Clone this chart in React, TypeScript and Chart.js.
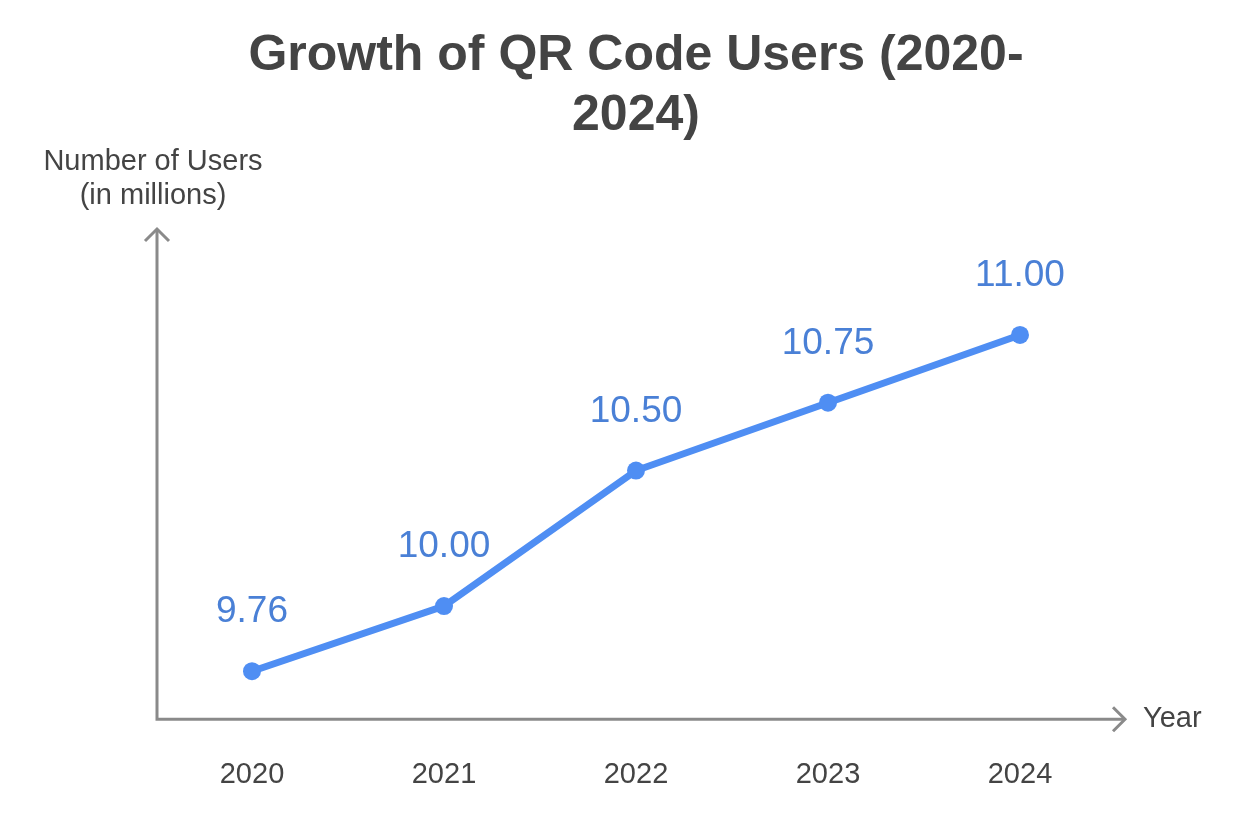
import React, { useEffect, useRef } from "react";
import { Chart, registerables } from "chart.js";

Chart.register(...registerables);

const years = ["2020", "2021", "2022", "2023", "2024"];
const users = [9.76, 10.0, 10.5, 10.75, 11.0];
const valueLabels = ["9.76", "10.00", "10.50", "10.75", "11.00"];
const titleLines = ["Growth of QR Code Users (2020-", "2024)"];
const yTitleLines = ["Number of Users", "(in millions)"];
const xTitle = "Year";

const FONT = '"Liberation Sans", Arial, Helvetica, sans-serif';
const LINE_COLOR = "#4f8ef3";
const LABEL_COLOR = "#4a80d6";
const AXIS_COLOR = "#8a8a8a";
const TEXT_COLOR = "#444444";

const decorPlugin = {
  id: "decor",
  beforeDatasetsDraw(chart: any) {
    const { ctx, chartArea } = chart;
    const x0 = chartArea.left + 1;
    const y0 = chartArea.bottom;
    const yTop = 229;
    const xEnd = chartArea.right + 9;
    ctx.save();
    ctx.strokeStyle = AXIS_COLOR;
    ctx.lineWidth = 3;
    ctx.lineCap = "butt";
    ctx.lineJoin = "miter";
    ctx.beginPath();
    ctx.moveTo(x0, yTop);
    ctx.lineTo(x0, y0);
    ctx.lineTo(xEnd, y0);
    ctx.stroke();
    ctx.beginPath();
    ctx.moveTo(x0 - 12, yTop + 12);
    ctx.lineTo(x0, yTop);
    ctx.lineTo(x0 + 12, yTop + 12);
    ctx.moveTo(xEnd - 12, y0 - 12);
    ctx.lineTo(xEnd, y0);
    ctx.lineTo(xEnd - 12, y0 + 12);
    ctx.stroke();
    ctx.fillStyle = TEXT_COLOR;
    ctx.font = `29px ${FONT}`;
    ctx.textAlign = "center";
    ctx.textBaseline = "middle";
    yTitleLines.forEach((t, i) => ctx.fillText(t, 153, 162 + i * 34));
    ctx.textAlign = "left";
    ctx.fillText(xTitle, xEnd + 18, y0);
    ctx.restore();
  },
  afterDatasetsDraw(chart: any) {
    const { ctx } = chart;
    const meta = chart.getDatasetMeta(0);
    ctx.save();
    ctx.fillStyle = LABEL_COLOR;
    ctx.font = `37px ${FONT}`;
    ctx.textAlign = "center";
    ctx.textBaseline = "middle";
    meta.data.forEach((pt: any, i: number) => {
      ctx.fillText(valueLabels[i], pt.x, pt.y - 59);
    });
    ctx.restore();
  },
};

export default function App() {
  const ref = useRef<HTMLCanvasElement>(null);
  useEffect(() => {
    document.body.style.margin = "0";
    const canvas = ref.current!;
    const chart = new Chart(canvas, {
      type: "line",
      data: {
        labels: years,
        datasets: [
          {
            data: users,
            borderColor: LINE_COLOR,
            backgroundColor: LINE_COLOR,
            borderWidth: 7,
            pointRadius: 9,
            pointBorderWidth: 0,
            pointBackgroundColor: LINE_COLOR,
            tension: 0,
            clip: false as any,
          },
        ],
      },
      options: {
        responsive: false,
        animation: false,
        layout: { padding: { top: 0, left: 156, right: 120, bottom: -6 } },
        plugins: {
          legend: { display: false },
          tooltip: { enabled: false },
          title: {
            display: true,
            text: titleLines,
            color: TEXT_COLOR,
            font: { family: FONT, size: 50, weight: "bold", lineHeight: 1.2 },
            padding: { top: 26, bottom: 84 },
          },
        },
        scales: {
          x: {
            offset: true,
            grid: { display: false, drawTicks: false },
            border: { display: false },
            ticks: {
              color: TEXT_COLOR,
              padding: 38,
              font: { family: FONT, size: 29 },
            },
          },
          y: {
            display: false,
            min: 9.583,
            max: 11.387,
          },
        },
      },
      plugins: [decorPlugin],
    });
    return () => chart.destroy();
  }, []);
  return (
    <div style={{ position: "absolute", left: 0, top: 0, width: 1236, height: 824, background: "#fff" }}>
      <canvas ref={ref} width={1236} height={824} style={{ display: "block" }} />
    </div>
  );
}
